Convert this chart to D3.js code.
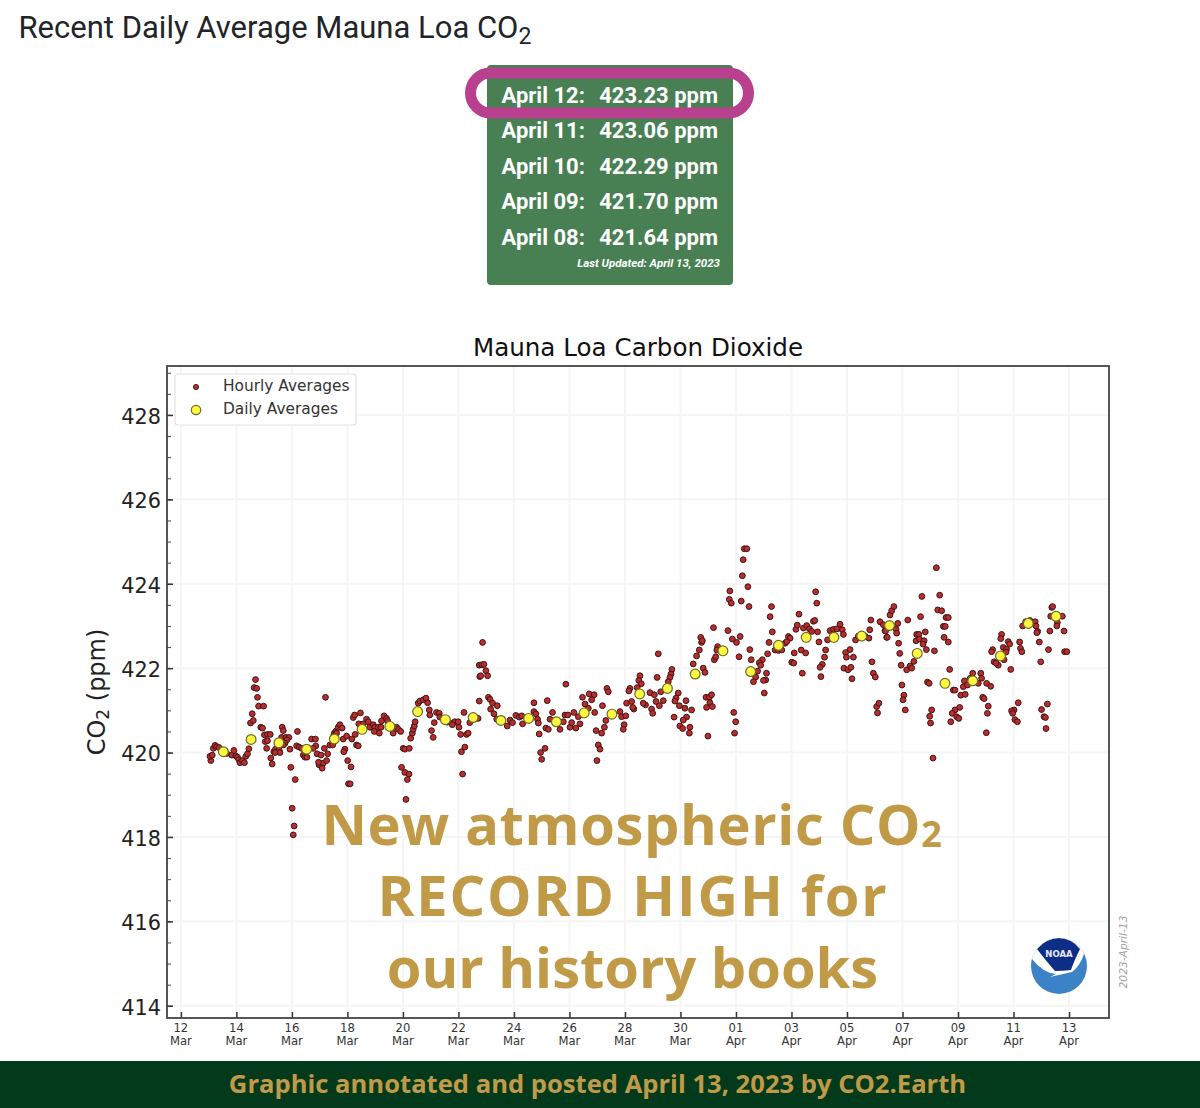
<!DOCTYPE html>
<html>
<head>
<meta charset="utf-8">
<script src="https://cdn.jsdelivr.net/npm/d3@7"></script>
<style>
  html, body { margin: 0; padding: 0; background: #fff; }
  svg { display: block; }
</style>
</head>
<body>
<svg id="chart"></svg>
<script>
// days are counted from 12 Mar 2023
let recentDates = ["April 12:", "April 11:", "April 10:", "April 09:", "April 08:"];
let recentValues = ["423.23 ppm", "423.06 ppm", "422.29 ppm", "421.70 ppm", "421.64 ppm"];

let yTicks = [414, 416, 418, 420, 422, 424, 426, 428];
let xTickDays = [0, 2, 4, 6, 8, 10, 12, 14, 16, 18, 20, 22, 24, 26, 28, 30, 32];
let xTickDates = ["12", "14", "16", "18", "20", "22", "24", "26", "28", "30", "01", "03", "05", "07", "09", "11", "13"];
let xTickMonths = ["Mar", "Mar", "Mar", "Mar", "Mar", "Mar", "Mar", "Mar", "Mar", "Mar", "Apr", "Apr", "Apr", "Apr", "Apr", "Apr", "Apr"];

let dailyDays = [1.53, 2.53, 3.53, 4.53, 5.53, 6.53, 7.53, 8.53, 9.53, 10.53, 11.53, 12.53, 13.53, 14.53, 15.53, 16.53,
  17.53, 18.53, 19.53, 20.53, 21.53, 22.53, 23.53, 24.53, 25.53, 26.53, 27.53, 28.53, 29.53, 30.53, 31.53];
let dailyPpm = [420.02, 420.31, 420.23, 420.08, 420.32, 420.55, 420.62, 420.97, 420.78, 420.83, 420.76, 420.81, 420.73, 420.94, 420.91, 421.39,
  421.52, 421.86, 422.41, 421.92, 422.54, 422.73, 422.73, 422.76, 423.01, 422.35, 421.64, 421.70, 422.29, 423.06, 423.23];

let hourlyDays = [
  1.08, 1.05, 1.13, 1.17, 1.23, 1.29, 1.37, 1.47, 1.65, 1.83,
  1.91, 1.98, 2.04, 2.09, 2.13, 2.22, 2.29, 2.34, 2.40, 2.45,
  2.51, 2.61, 2.57, 2.64, 2.73, 2.69, 2.76, 2.80, 2.98, 2.88,
  2.94, 3.01, 3.12, 3.22, 3.04, 3.12, 3.09, 3.24, 3.29, 3.35,
  3.41, 3.47, 3.54, 3.57, 3.39, 3.65, 3.69, 3.63, 3.78, 3.89,
  3.82, 3.75, 3.69, 3.93, 3.96, 4.12, 4.01, 4.08, 4.05, 4.20,
  4.17, 4.26, 4.35, 4.41, 4.47, 4.54, 4.71, 4.85, 4.86, 4.77,
  4.59, 4.91, 5.05, 5.29, 5.21, 5.17, 4.98, 5.13, 4.96, 5.09,
  5.25, 5.37, 5.47, 5.53, 5.49, 5.59, 5.67, 5.73, 5.81, 5.61,
  5.85, 5.97, 6.16, 6.28, 5.91, 5.87, 6.01, 6.13, 6.04, 6.10,
  6.33, 6.39, 6.21, 6.26, 6.47, 6.41, 6.57, 6.69, 6.75, 6.81,
  6.93, 6.99, 6.97, 7.11, 7.15, 7.21, 7.23, 7.32, 7.41, 7.45,
  7.65, 7.77, 7.84, 7.92, 8.01, 8.07, 8.23, 7.95, 8.07, 8.22,
  8.16, 8.11, 8.28, 8.34, 8.37, 8.41, 8.44, 8.55, 8.61, 8.73,
  8.83, 8.89, 8.95, 8.97, 9.13, 9.21, 9.31, 9.33, 9.03, 9.09,
  9.81, 9.87, 9.99, 9.78, 10.02, 10.08, 10.29, 10.35, 10.11, 10.23,
  10.15, 10.20, 10.41, 10.71, 10.75, 10.77, 10.75, 9.45, 9.60,
  10.87, 10.84, 10.92, 10.99, 10.80, 11.05, 11.08, 11.14, 11.23, 11.40,
  11.16, 11.28, 11.38, 11.76, 11.86, 11.95, 12.07, 12.19, 12.28, 12.31,
  12.72, 12.72, 12.79, 12.85, 12.88, 13.20, 12.91, 13.15, 13.24, 13.12,
  12.96, 13.00, 13.39, 13.30, 13.66, 13.84, 13.94, 13.78, 13.87, 14.16,
  14.32, 14.02, 14.08, 14.23, 14.38, 14.47, 14.56, 14.71, 14.80, 14.89,
  14.68, 14.91, 15.19, 15.31, 14.96, 15.16, 15.26, 15.04, 15.10, 14.99,
  15.35, 15.40, 15.82, 15.88, 16.03, 15.97, 15.94, 16.18, 16.14, 16.06,
  16.24, 16.32, 16.28, 16.54, 16.50, 16.59, 16.44, 16.74, 16.66, 16.90,
  17.06, 17.12, 17.38, 17.24, 16.96, 17.00, 17.29, 17.20, 17.16, 17.69,
  17.66, 17.62, 17.56, 17.77, 17.92, 17.84, 17.80, 17.96, 18.20, 18.16,
  18.40, 18.22, 18.10, 17.98, 18.08, 18.34, 18.32, 18.99, 18.46, 18.58,
  18.68, 18.76, 18.82, 18.88, 18.92, 19.04, 19.12, 19.06, 18.94, 19.15,
  19.92, 19.99, 19.95, 19.19, 18.73, 18.79, 19.22, 19.27, 19.34, 19.31,
  19.71, 19.87, 20.02, 20.15, 20.11, 19.78, 19.76, 19.83, 20.19, 20.47,
  20.43, 20.23, 20.26, 20.30, 20.39, 20.50, 20.55, 20.95, 20.84, 20.89,
  20.78, 20.71, 20.63, 21.10, 21.07, 20.99, 21.02, 21.14, 21.19, 21.31,
  21.23, 21.28, 21.41, 21.53, 21.65, 21.77, 21.89, 21.95, 21.83, 22.01,
  22.08, 22.10, 22.35, 22.51, 22.39, 22.16, 22.21, 22.27, 22.43, 22.55,
  22.65, 22.73, 22.79, 22.84, 22.87, 22.91, 22.94, 22.99, 23.23, 23.19,
  23.11, 23.03, 23.06, 23.30, 23.39, 23.51, 23.63, 23.75, 23.83, 23.87,
  23.95, 23.98, 24.11, 24.23, 23.89, 24.04, 24.14, 24.18, 24.31, 24.41,
  24.65, 24.79, 24.82, 24.86, 24.90, 24.95, 25.02, 25.07, 25.15, 25.10,
  25.19, 25.31, 25.43, 25.37,
  25.39, 25.45, 25.55, 25.61, 25.69, 25.83, 25.77, 25.79, 26.19, 25.86,
  25.90, 25.95, 26.15, 26.27, 26.33, 26.41, 25.98, 26.05, 26.02, 26.10,
  26.65, 26.70, 26.51, 26.59, 26.82, 26.49, 26.61, 26.78, 26.74, 26.86,
  27.15, 27.22, 27.34, 27.27, 27.41, 27.57, 27.65, 27.47, 27.54, 27.50,
  27.65, 26.90, 26.96, 27.70, 27.05, 26.98, 27.01, 27.10, 27.83, 27.89,
  28.10, 28.26, 28.06, 27.89, 27.79, 27.95, 28.03, 27.74, 28.19, 28.23,
  28.34, 28.44, 28.53, 28.73, 28.82, 28.85, 29.03, 29.18, 28.89, 28.94,
  29.09, 29.06, 29.02, 29.25, 29.21, 29.30, 29.45, 29.37, 29.57, 29.54,
  29.63, 29.75, 29.81, 29.86, 29.73, 29.66, 29.90, 30.22, 30.25, 30.30,
  30.17, 30.02, 29.93, 29.97, 30.05, 30.14, 30.33, 30.44, 30.59, 30.78,
  30.81, 30.87, 30.93, 30.84, 30.98, 31.26, 31.31, 31.38, 31.41, 31.34,
  31.58, 31.56, 31.76, 31.82, 31.84, 31.92, 31.22, 31.01, 31.10, 31.15,
  31.17
];
let hourlyPpm = [
  419.81, 419.91, 419.94, 420.10, 420.17, 420.14, 420.12, 420.06, 419.98, 419.94,
  420.05, 419.92, 419.89, 419.83, 419.76, 419.81, 419.76, 419.91, 419.97, 420.09,
  420.70, 420.76, 420.92, 421.54, 421.52, 421.73, 421.31, 421.10, 421.10, 420.60,
  420.58, 420.42, 420.43, 420.43, 420.26, 420.28, 420.10, 419.87, 419.73, 420.02,
  420.08, 420.02, 420.06, 420.00, 420.00, 420.60, 420.52, 420.36, 420.36, 420.36,
  420.30, 420.22, 420.18, 420.08, 419.65, 419.36, 418.68, 418.26, 418.05, 420.50,
  420.16, 420.13, 420.10, 419.94, 419.89, 419.89, 420.32, 420.32, 420.16, 420.10,
  420.06, 419.97, 419.94, 419.97, 421.31, 420.10, 419.71, 419.75, 419.77, 419.63,
  419.81, 420.18, 420.18, 420.46, 420.38, 420.51, 420.60, 420.66, 420.58, 420.46,
  420.32, 420.39, 420.32, 420.43, 420.08, 420.02, 419.81, 419.66, 419.26, 419.26,
  420.18, 420.16, 420.83, 420.89, 420.94, 420.68, 420.68, 420.79, 420.73, 420.60,
  420.66, 420.60, 420.50, 420.60, 420.46, 420.60, 420.75, 420.87, 420.81, 420.75,
  420.46, 420.60, 420.55, 420.50, 420.10, 420.08, 420.10, 419.65, 419.53, 419.49,
  419.36, 418.89, 420.34, 420.46, 420.55, 420.63, 420.73, 421.17, 421.22, 421.25,
  421.29, 421.18, 421.01, 420.89, 420.71, 420.95, 420.93, 420.84, 420.52, 420.36,
  420.70, 420.73, 420.73, 420.66, 420.60, 420.43, 420.43, 420.46, 420.02, 420.13,
  419.49, 420.95, 420.71, 420.81, 422.07, 421.80, 421.22, 420.80, 420.72,
  422.61, 422.08, 422.09, 421.94, 421.82, 421.82, 421.31, 421.26, 421.17, 421.11,
  421.03, 420.92, 420.79, 420.63, 420.77, 420.71, 420.88, 420.84, 420.87, 420.68,
  421.18, 420.97, 420.92, 420.79, 420.70, 421.23, 420.44, 420.58, 420.55, 420.10,
  420.00, 419.84, 420.95, 420.79, 420.55, 420.89, 420.89, 420.73, 421.62, 420.95,
  420.85, 420.60, 420.71, 420.58, 420.68, 421.31, 421.15, 421.39, 421.25, 421.37,
  421.05, 420.95, 421.11, 420.76, 420.52, 420.46, 420.60, 420.18, 420.08, 419.81,
  421.52, 421.44, 420.97, 420.85, 420.87, 420.66, 420.55, 421.52, 421.46, 421.17,
  421.21, 421.03, 421.07, 421.82, 421.71, 421.63, 421.54, 421.13, 421.17, 421.42,
  421.37, 421.21, 421.23, 421.11, 421.03, 420.93, 421.44, 422.34, 421.78, 421.97,
  421.86, 421.78, 421.68, 420.84, 421.41, 421.29, 421.22, 421.11, 421.23, 421.05,
  421.01, 420.84, 420.77, 420.63, 420.57, 420.60, 420.46, 420.39, 422.10, 422.29,
  422.43, 422.61, 422.00, 421.90, 421.31, 421.31, 421.37, 421.18, 421.07, 421.09,
  420.95, 420.73, 420.46, 422.96, 422.73, 422.65, 422.20, 422.27, 422.51, 422.43,
  422.89, 422.69, 422.61, 422.75, 422.27, 423.83, 423.63, 423.54, 423.59, 423.46,
  423.93, 424.19, 424.57, 424.83, 424.83, 422.44, 422.20, 422.20, 422.13, 422.07,
  421.93, 421.79, 421.68, 421.88, 421.72, 421.71, 421.41, 422.34, 422.61, 422.86,
  423.22, 423.46, 422.43, 422.42, 422.43, 422.59, 422.75, 422.71, 422.63, 422.14,
  422.12, 422.36, 422.43, 422.36, 421.88, 422.92, 423.02, 423.28, 422.95, 423.01,
  422.93, 422.87, 423.11, 423.13, 423.81, 423.54, 422.86, 422.62, 422.43, 422.26,
  422.09, 422.02, 421.80, 422.67, 422.89, 422.92, 422.93, 423.04, 422.91, 422.80,
  422.37, 422.26, 422.44, 422.26, 422.00, 421.96, 422.02, 421.75, 422.67, 422.76,
  422.76, 422.71, 422.91, 423.14, 422.15, 421.88, 421.79, 421.09, 421.17, 420.94,
  423.10, 423.03, 422.73, 422.89,
  422.88, 422.73, 423.26, 423.36, 423.46, 423.06, 422.92, 422.83, 423.14, 422.59,
  422.35, 422.07, 421.96, 422.05, 422.00, 422.16, 421.60, 421.36, 421.25, 421.01,
  423.22, 423.70, 422.80, 422.80, 422.86, 422.65, 422.69, 422.65, 422.57, 422.44,
  422.41, 424.38, 423.73, 423.38, 423.36, 423.20, 423.20, 422.99, 422.99, 422.73,
  422.62, 421.67, 421.64, 421.97, 421.01, 420.86, 420.70, 419.87, 421.48, 421.48,
  421.36, 421.38, 421.07, 421.01, 420.93, 420.85, 420.81, 420.73, 421.56, 421.70,
  421.60, 421.76, 421.88, 421.64, 421.88, 421.76, 421.64, 421.57, 421.31, 421.28,
  421.10, 420.93, 420.47, 422.44, 422.39, 422.15, 422.07, 422.12, 422.80, 422.70,
  422.49, 422.45, 422.63, 422.57, 422.38, 422.20, 421.97, 422.62, 422.47, 422.39,
  421.18, 421.01, 420.99, 420.93, 420.78, 420.73, 423.00, 423.10, 423.13, 423.10,
  423.00, 422.87, 422.62, 422.84, 422.15, 422.44, 422.88, 423.44, 423.46, 423.23,
  423.08, 423.00, 423.23, 422.88, 422.39, 422.39, 421.15, 421.02, 420.85, 420.83,
  420.57
];

let width = 1200, height = 1108;
let plotLeft = 167, plotRight = 1109, plotTop = 366, plotBottom = 1018;
let gold = "#c19a48";
let dejavu = "'DejaVu Sans', sans-serif";
let noteFont = "'Open Sans', sans-serif";

let svg = d3.select("#chart").attr("width", width).attr("height", height);

// page heading
let heading = svg.append("text")
  .attr("x", 18.5).attr("y", 38)
  .attr("font-family", "Roboto, sans-serif").attr("font-size", 31).attr("fill", "#212529");
heading.append("tspan").text("Recent Daily Average Mauna Loa CO");
heading.append("tspan").text("2").attr("font-size", 23).attr("dy", 6);

// green table
svg.append("rect").attr("x", 487).attr("y", 65).attr("width", 246).attr("height", 220).attr("rx", 4).attr("fill", "#488053");

let rowY = d3.scaleLinear().domain([0, 4]).range([102.6, 245]);

svg.selectAll(".recent-date").data(recentDates).enter().append("text")
  .attr("class", "recent-date")
  .attr("x", 501.5).attr("y", (d, i) => rowY(i))
  .attr("font-family", "Roboto, sans-serif").attr("font-weight", 700).attr("font-size", 22).attr("fill", "#fff")
  .text(d => d);

svg.selectAll(".recent-value").data(recentValues).enter().append("text")
  .attr("class", "recent-value")
  .attr("x", 718).attr("y", (d, i) => rowY(i)).attr("text-anchor", "end")
  .attr("font-family", "Roboto, sans-serif").attr("font-weight", 700).attr("font-size", 22).attr("fill", "#fff")
  .text(d => d);

svg.append("text").attr("x", 720).attr("y", 267).attr("text-anchor", "end")
  .attr("font-family", "Roboto, sans-serif").attr("font-weight", 700).attr("font-style", "italic")
  .attr("font-size", 11.5).attr("fill", "#fff")
  .text("Last Updated: April 13, 2023");

svg.append("rect").attr("x", 470.5).attr("y", 73).attr("width", 278).attr("height", 40).attr("rx", 20)
  .attr("fill", "none").attr("stroke", "#b8408f").attr("stroke-width", 11);

// scales
let x = d3.scaleLinear().domain([-0.5, 33.44]).range([plotLeft, plotRight]);
let y = d3.scaleLinear().domain([413.71, 429.16]).range([plotBottom, plotTop]);

svg.append("text").attr("x", 638).attr("y", 356).attr("text-anchor", "middle")
  .attr("font-family", dejavu).attr("font-size", 24.6).attr("fill", "#111")
  .text("Mauna Loa Carbon Dioxide");

// grid
let grid = svg.append("g").attr("stroke", "#f5f5f5").attr("stroke-width", 2);
grid.selectAll(".gx").data(xTickDays).enter().append("line")
  .attr("x1", d => x(d)).attr("x2", d => x(d)).attr("y1", plotTop).attr("y2", plotBottom);
grid.selectAll(".gy").data(yTicks).enter().append("line")
  .attr("y1", d => y(d)).attr("y2", d => y(d)).attr("x1", plotLeft).attr("x2", plotRight);

// axes, ticks point inward
let yMinor = d3.range(414, 429.1, 0.5);
let yMinorAxis = svg.append("g").attr("transform", "translate(" + plotLeft + ",0)")
  .call(d3.axisLeft(y).tickValues(yMinor).tickSize(-4).tickFormat(""));
yMinorAxis.select(".domain").remove();
yMinorAxis.selectAll("line").attr("stroke", "#444").attr("stroke-width", 1);

let yAxis = svg.append("g").attr("transform", "translate(" + plotLeft + ",0)")
  .call(d3.axisLeft(y).tickValues(yTicks).tickSize(-6).tickPadding(6).tickFormat(d3.format("d")));
yAxis.select(".domain").remove();
yAxis.selectAll("line").attr("stroke", "#333").attr("stroke-width", 1.5);
yAxis.selectAll("text").attr("font-family", dejavu).attr("font-size", 20.8).attr("fill", "#222").attr("dy", "0.4em");

let xAxis = svg.append("g").attr("transform", "translate(0," + plotBottom + ")")
  .call(d3.axisBottom(x).tickValues(xTickDays).tickSize(-6).tickFormat(""));
xAxis.select(".domain").remove();
xAxis.selectAll("line").attr("stroke", "#333").attr("stroke-width", 1.5);

let xLabels = svg.selectAll(".xlabel").data(xTickDays).enter().append("text")
  .attr("class", "xlabel")
  .attr("text-anchor", "middle")
  .attr("font-family", dejavu).attr("font-size", 11.6).attr("fill", "#333");
xLabels.append("tspan").attr("x", d => x(d)).attr("y", 1032).text((d, i) => xTickDates[i]);
xLabels.append("tspan").attr("x", d => x(d)).attr("y", 1044.5).text((d, i) => xTickMonths[i]);

let yLabel = svg.append("text")
  .attr("transform", "translate(105,692) rotate(-90)")
  .attr("text-anchor", "middle")
  .attr("font-family", dejavu).attr("font-size", 24).attr("fill", "#222");
yLabel.append("tspan").text("CO");
yLabel.append("tspan").text("2").attr("font-size", 17).attr("dy", 4);
yLabel.append("tspan").text(" (ppm)").attr("dy", -4);

// points, slightly soft like the scaled-up original
let marks = svg.append("g").style("filter", "blur(0.35px)");

marks.selectAll(".hourly").data(hourlyDays).enter().append("circle")
  .attr("class", "hourly")
  .attr("cx", d => x(d))
  .attr("cy", (d, i) => y(hourlyPpm[i]))
  .attr("r", 2.9)
  .attr("fill", "#bb2c2c").attr("stroke", "#3a1515").attr("stroke-width", 1);

marks.selectAll(".daily").data(dailyDays).enter().append("circle")
  .attr("class", "daily")
  .attr("cx", d => x(d))
  .attr("cy", (d, i) => y(dailyPpm[i]))
  .attr("r", 4.9)
  .attr("fill", "#fdf73f").attr("stroke", "#6b6b2a").attr("stroke-width", 1.2);

// frame on top of the marks
svg.append("rect").attr("x", plotLeft).attr("y", plotTop)
  .attr("width", plotRight - plotLeft).attr("height", plotBottom - plotTop)
  .attr("fill", "none").attr("stroke", "#444").attr("stroke-width", 1.8);

// legend
svg.append("rect").attr("x", 175).attr("y", 374).attr("width", 181).attr("height", 51).attr("rx", 3)
  .attr("fill", "#fff").attr("fill-opacity", 0.9).attr("stroke", "#e2e2e2").attr("stroke-width", 1.2);
svg.append("circle").attr("cx", 196).attr("cy", 387).attr("r", 2.6)
  .attr("fill", "#bb2c2c").attr("stroke", "#3a1515").attr("stroke-width", 0.9);
svg.append("circle").attr("cx", 196).attr("cy", 410).attr("r", 4.7)
  .attr("fill", "#fdf73f").attr("stroke", "#6b6b2a").attr("stroke-width", 1.2);
svg.append("text").attr("x", 223).attr("y", 391)
  .attr("font-family", dejavu).attr("font-size", 15.4).attr("fill", "#333").text("Hourly Averages");
svg.append("text").attr("x", 223).attr("y", 414)
  .attr("font-family", dejavu).attr("font-size", 15.4).attr("fill", "#333").text("Daily Averages");

// annotation
let note = svg.append("g").attr("text-anchor", "middle")
  .attr("font-family", noteFont).attr("font-weight", 700).attr("font-size", 56).attr("fill", gold);
let noteFirst = note.append("text").attr("x", 632).attr("y", 845).attr("letter-spacing", 0.65);
noteFirst.append("tspan").text("New atmospheric CO");
noteFirst.append("tspan").text("2").attr("font-size", 36).attr("dy", 2);
note.append("text").attr("x", 633).attr("y", 916).attr("letter-spacing", 1.9).text("RECORD HIGH for");
note.append("text").attr("x", 632.5).attr("y", 988).text("our history books");

// NOAA logo
let logo = svg.append("g").attr("transform", "translate(1059,966)");
logo.append("clipPath").attr("id", "logoClip").append("circle").attr("r", 28);
logo.append("circle").attr("r", 28).attr("fill", "#3b82c6");
logo.append("path").attr("clip-path", "url(#logoClip)").attr("fill", "#fff")
  .attr("d", "M-30,-30 L-30,-9 L-27,-7 Q-16,7 -3,8 L-9,11 L13,6 Q21,0 25,-12 L30,-30 Z");
logo.append("path").attr("fill", "#0e2d86").attr("clip-path", "url(#logoClip)")
  .attr("d", "M-22,-17 Q-12,-28 0,-28 Q12,-28 21,-17 Q15,-5 12,4 Q4,5 -4,5 Q-12,-4 -22,-17 Z");
logo.append("text").attr("y", -9).attr("text-anchor", "middle")
  .attr("font-family", "'DejaVu Sans Condensed', 'DejaVu Sans', sans-serif").attr("font-weight", 700)
  .attr("font-size", 9.5).attr("fill", "#e8e8f4").text("NOAA");

svg.append("text").attr("transform", "translate(1127,952) rotate(-90)")
  .attr("text-anchor", "middle")
  .attr("font-family", dejavu).attr("font-style", "italic").attr("font-size", 10.7).attr("fill", "#a0a0a0")
  .text("2023-April-13");

// footer band
svg.append("rect").attr("x", 0).attr("y", 1061).attr("width", width).attr("height", 47).attr("fill", "#043a1c");
svg.append("text").attr("x", 597.5).attr("y", 1093).attr("text-anchor", "middle")
  .attr("font-family", noteFont).attr("font-weight", 700).attr("font-size", 25.6).attr("fill", gold)
  .text("Graphic annotated and posted April 13, 2023 by CO2.Earth");
</script>
</body>
</html>
